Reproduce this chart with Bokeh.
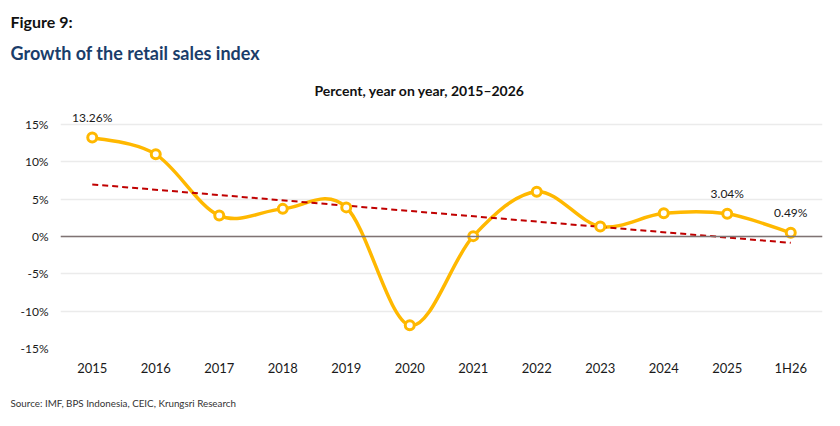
import numpy as np
from bokeh.plotting import figure
from bokeh.models import Range1d, FixedTicker, Span, ColumnDataSource, Title
from bokeh.core.properties import value
from bokeh.embed import file_html
from bokeh.resources import INLINE

# ---- data ----
categories = ["2015", "2016", "2017", "2018", "2019", "2020",
              "2021", "2022", "2023", "2024", "2025", "1H26"]
growth = [13.26, 11.0, 2.8, 3.7, 3.9, -11.9, 0.05, 6.0, 1.35, 3.1, 3.04, 0.49]
y_ticks = [-15, -10, -5, 0, 5, 10, 15]
labelled = ["2015", "2025", "1H26"]

FONT = "Lato"
LINE_COL = "#FFB800"
TREND_COL = "#C00000"

n = len(categories)
x = np.arange(n, dtype=float)
y = np.array(growth, dtype=float)

PX_PER_UNIT = 112 / 15
FRAME_H = 243
y_top = -15 + FRAME_H / PX_PER_UNIT

p = figure(width=840, height=426, output_backend="svg", toolbar_location=None,
           x_range=Range1d(-0.5, n - 0.5), y_range=Range1d(-15, y_top),
           min_border_left=60, min_border_right=18, min_border_top=105,
           min_border_bottom=78)
p.outline_line_color = None

p.xaxis.ticker = FixedTicker(ticks=list(x))
p.xaxis.major_label_overrides = {i: c for i, c in enumerate(categories)}
p.yaxis.ticker = FixedTicker(ticks=y_ticks)
p.yaxis.major_label_overrides = {t: f"{t}%" for t in y_ticks}
for ax in (p.xaxis, p.yaxis):
    ax.axis_line_color = None
    ax.major_tick_line_color = None
    ax.minor_tick_line_color = None
    ax.major_tick_in = 0
    ax.major_tick_out = 0
    ax.major_label_text_font = FONT
    ax.major_label_text_color = "#1a1a1a"
p.xaxis.major_label_text_font_size = "13px"
p.yaxis.major_label_text_font_size = "12px"
p.xaxis.major_label_standoff = 11
p.yaxis.major_label_standoff = 12

p.xgrid.grid_line_color = None
p.ygrid.grid_line_color = "#EBEBEB"
p.ygrid.grid_line_width = 1.5

p.add_layout(Span(location=0, dimension="width", line_color="#7F7373", line_width=1.5))

# smoothed curve (Catmull-Rom style bezier segments)
xp = np.concatenate([[x[0]], x, [x[-1]]])
yp = np.concatenate([[y[0]], y, [y[-1]]])
seg = dict(x0=[], y0=[], x1=[], y1=[], cx0=[], cy0=[], cx1=[], cy1=[])
for i in range(n - 1):
    seg["x0"].append(x[i]); seg["y0"].append(y[i])
    seg["x1"].append(x[i + 1]); seg["y1"].append(y[i + 1])
    seg["cx0"].append(x[i] + (x[i + 1] - xp[i]) / 6)
    seg["cy0"].append(y[i] + (y[i + 1] - yp[i]) / 6)
    seg["cx1"].append(x[i + 1] - (xp[i + 3] - x[i]) / 6)
    seg["cy1"].append(y[i + 1] - (yp[i + 3] - y[i]) / 6)
p.bezier(x0="x0", y0="y0", x1="x1", y1="y1", cx0="cx0", cy0="cy0",
         cx1="cx1", cy1="cy1", source=ColumnDataSource(seg),
         line_color=LINE_COL, line_width=3.5, line_cap="round")

# linear trend line
slope, intercept = np.polyfit(x, y, 1)
p.line([x[0], x[-1]], [intercept + slope * x[0], intercept + slope * x[-1]],
       line_color=TREND_COL, line_width=2, line_dash="6 4")

# markers
p.scatter(x, y, size=9, marker="circle", fill_color="white",
          line_color=LINE_COL, line_width=3)

# data labels
li = [categories.index(c) for c in labelled]
p.text(x=[x[i] for i in li], y=[y[i] for i in li],
       text=[f"{growth[i]:.2f}%" for i in li],
       text_font=value(FONT), text_font_size="12px", text_color="#1a1a1a",
       text_align="center", text_baseline="alphabetic", y_offset=-20)

# ---- titles (first added = nearest the frame) ----
p.title.text = ""
p.add_layout(Title(text="Percent, year on year, 2015\u20132026", align="left",
                   offset=254, standoff=14, vertical_align="bottom",
                   text_font=FONT, text_font_size="14px", text_font_style="bold",
                   text_color="#111111"), "above")
p.add_layout(Title(text="Growth of the retail sales index", align="left",
                   offset=-50, standoff=17, vertical_align="bottom",
                   text_font=FONT, text_font_size="18px", text_font_style="bold",
                   text_color="#1A3D6A"), "above")
p.add_layout(Title(text="Figure 9:", align="left",
                   offset=-50, standoff=2, vertical_align="bottom",
                   text_font=FONT, text_font_size="16px", text_font_style="bold",
                   text_color="#111111"), "above")
p.add_layout(Title(text="Source: IMF, BPS Indonesia, CEIC, Krungsri Research",
                   align="left", offset=-50, standoff=33, vertical_align="bottom",
                   text_font=FONT, text_font_size="9.8px", text_font_style="normal",
                   text_color="#333333"), "below")

open("out.html", "w").write(file_html(p, INLINE))
